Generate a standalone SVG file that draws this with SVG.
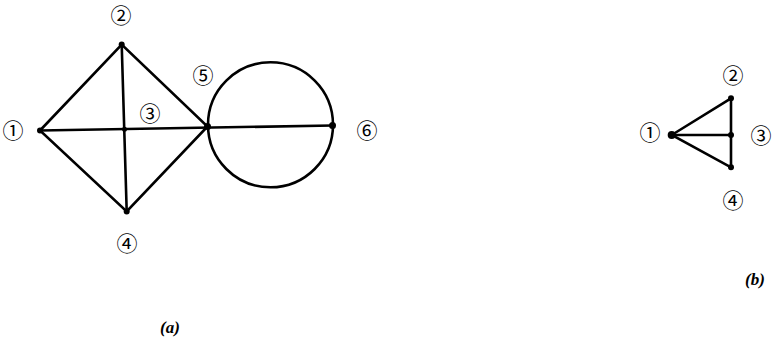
<svg xmlns="http://www.w3.org/2000/svg" width="776" height="347" viewBox="0 0 776 347">
<style>
.e{stroke:#000;stroke-width:2.6;fill:none;stroke-linecap:round}
.n{fill:#000}
.l{font-family:"Noto Sans CJK SC","DejaVu Sans",sans-serif;font-size:21px;fill:#000;text-anchor:middle}
.c{font-family:"Liberation Serif",serif;font-style:italic;font-weight:bold;font-size:17px;fill:#000;text-anchor:middle}
</style>
<rect width="776" height="347" fill="#fff"/>
<g id="connectors">
<path class="e" d="M40,130.5 L121.7,44.5 L207.5,126.5 L126.7,211.5 Z"/>
<line class="e" x1="121.7" y1="44.5" x2="126.7" y2="211.5"/>
<line class="e" x1="40" y1="130.5" x2="332.5" y2="125.5"/>
<circle class="e" cx="270.5" cy="124.8" r="62.5"/>
<path class="e" d="M671.7,135 L731,98.3 L731,167.3 Z"/>
<line class="e" x1="671.7" y1="135" x2="731" y2="135"/>
</g>
<g id="a1"><circle class="n" cx="40" cy="130.5" r="3"/><text class="l" x="13" y="138">①</text></g>
<g id="a2"><circle class="n" cx="121.7" cy="44.5" r="3"/><text class="l" x="121" y="23">②</text></g>
<g id="a3"><circle class="n" cx="124.5" cy="129.2" r="2.5"/><text class="l" x="150" y="121">③</text></g>
<g id="a4"><circle class="n" cx="126.7" cy="211.5" r="3"/><text class="l" x="127" y="251">④</text></g>
<g id="a5"><circle class="n" cx="207.5" cy="126.5" r="3.5"/><text class="l" x="203" y="83">⑤</text></g>
<g id="a6"><circle class="n" cx="332.5" cy="125.5" r="3.5"/><text class="l" x="367" y="138">⑥</text></g>
<g id="b1"><circle class="n" cx="671.7" cy="135" r="4"/><text class="l" x="650" y="140">①</text></g>
<g id="b2"><circle class="n" cx="731" cy="98.3" r="3"/><text class="l" x="733" y="83">②</text></g>
<g id="b3"><circle class="n" cx="731" cy="135" r="3"/><text class="l" x="761" y="143">③</text></g>
<g id="b4"><circle class="n" cx="731" cy="167.3" r="3"/><text class="l" x="733" y="208">④</text></g>
<text class="c" x="170" y="333">(a)</text>
<text class="c" x="755" y="285">(b)</text>
</svg>
